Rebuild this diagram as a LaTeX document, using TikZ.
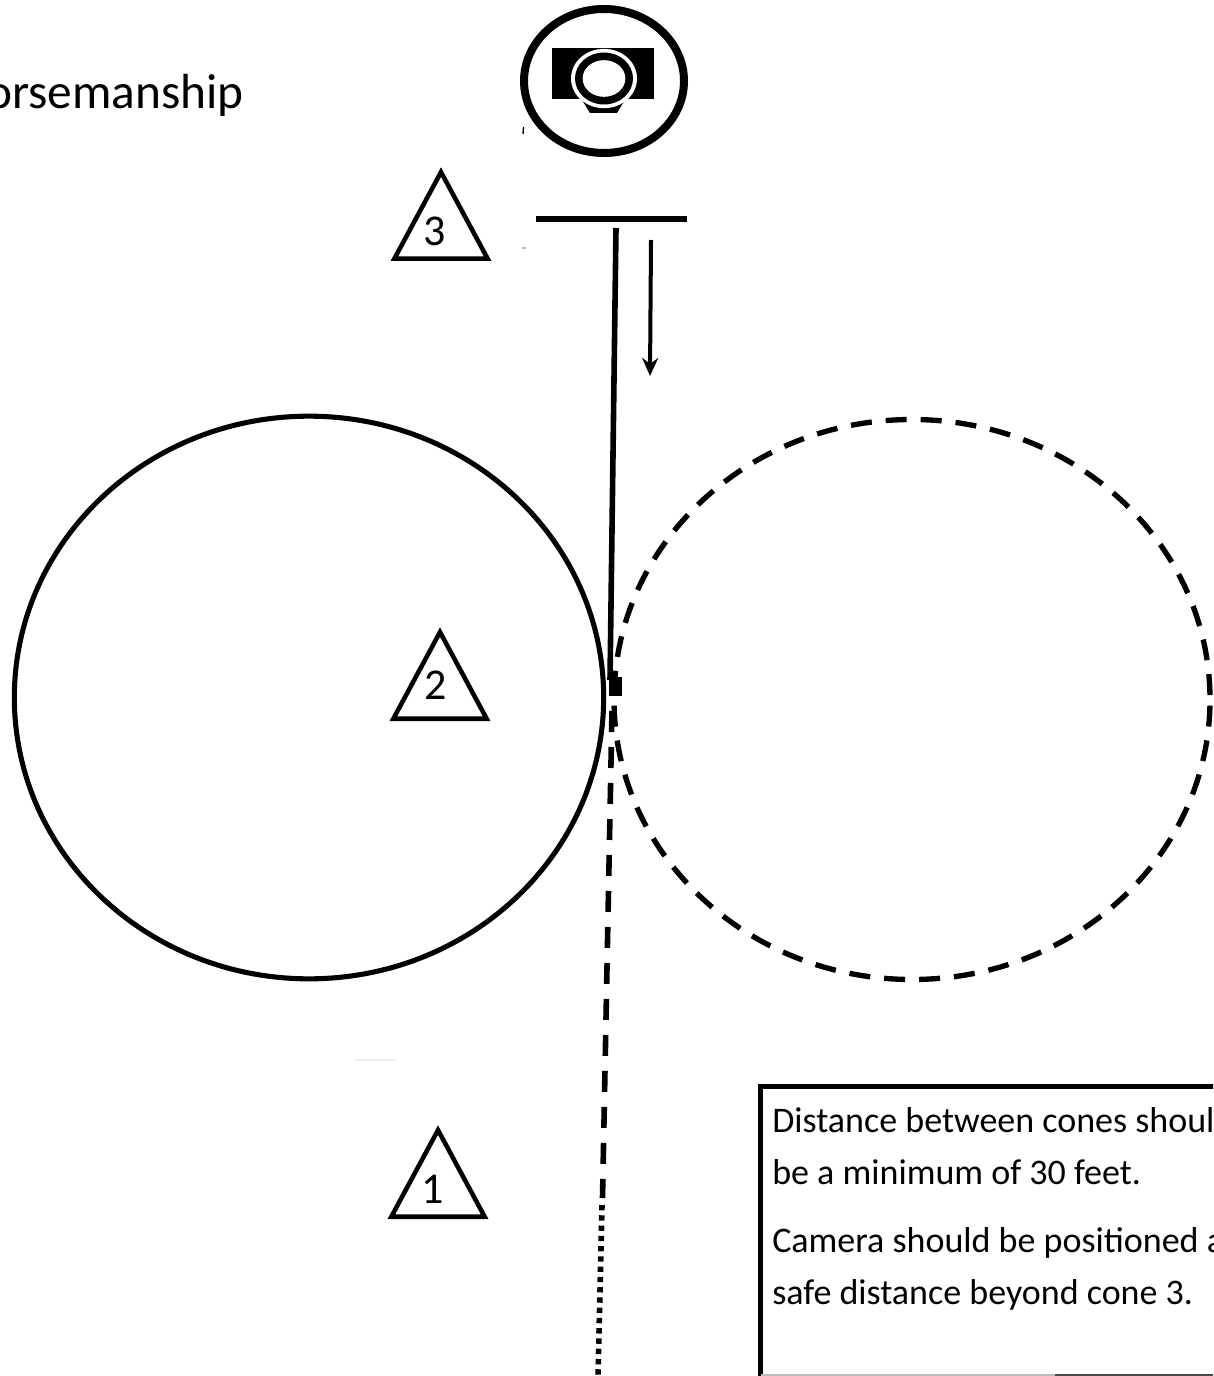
\documentclass[tikz,border=0pt]{standalone}
\usepackage{xcolor}
\usepackage{fontspec}
\setmainfont{Carlito}
\usetikzlibrary{shapes.geometric,arrows.meta,positioning,calc}
\definecolor{InkBlack}{HTML}{000000}
\definecolor{ScanGrey}{HTML}{BDBDBD}
\definecolor{ScanPale}{HTML}{EDEDED}
\definecolor{ScanDark}{HTML}{4A4A4A}
\tikzset{
  % Base ring
  RG/.style={ellipse,draw=InkBlack,line width=3.8pt,inner sep=0pt,
             minimum width=442pt,minimum height=422pt},
  RD/.style={RG,line width=4pt,minimum width=447pt,minimum height=420pt,dash pattern=on 15.75pt off 10.5pt,dash phase=22.9pt},
  % Cone
  CN/.style={isosceles triangle,isosceles triangle stretches,shape border rotate=90,
             draw=InkBlack,line width=3.4pt,inner sep=0pt,anchor=lower side,
             minimum width=70pt,minimum height=65pt},
  CL/.style={font=\fontsize{33}{33}\selectfont,inner sep=0pt},
  % Camera parts
  CB/.style={rectangle,fill=InkBlack,minimum width=76.5pt,minimum height=38pt,inner sep=0pt},
  CR/.style={ellipse,inner sep=0pt},
  % Lines
  arr/.style={-{Stealth[length=13.5pt,width=12pt]},line width=3pt,draw=InkBlack},
  solid3/.style={line width=4.2pt,draw=InkBlack},
  dash3/.style={line width=4.2pt,draw=InkBlack,dash pattern=on 15.75pt off 11.25pt},
  dots3/.style={line width=4.2pt,draw=InkBlack,dash pattern=on 4pt off 3.7pt},
  % Text
  TT/.style={font=\fontsize{37}{37}\selectfont,inner sep=0pt},
  NT/.style={font=\fontsize{27}{39}\selectfont,inner sep=0pt,align=left}
}
\begin{document}
\begin{tikzpicture}[x=0.75pt,y=-0.75pt]
  \clip (0,0) rectangle (1213,1376);
  \node[TT,anchor=base east] (title) at (244,108.5) {orsemanship};

  % camera
  \node[CR,draw=InkBlack,line width=6pt,minimum width=120pt,minimum height=108pt] (cam) at (604,81) {};
  \node[CB] (body) at (603,73.5) {};
  \fill[InkBlack] (582,100) -- (590,113) -- (617,113) -- (625,100) -- cycle;
  \node[CR,fill=white,minimum width=49.5pt,minimum height=44.5pt] (lensO) at (604,78.5) {};
  \node[CR,fill=InkBlack,minimum width=43.5pt,minimum height=39pt] (lensM) at (604,78.5) {};
  \node[CR,fill=white,minimum width=32pt,minimum height=27.5pt] (lensI) at (604,78.5) {};

  % scan marks
  \draw[InkBlack,line width=1pt] (523.5,127) -- (523,134);
  \draw[ScanGrey,line width=1pt] (522,248) -- (526,248);
  \draw[ScanPale,line width=1.5pt] (355,1060) -- (396,1060);

  % start bar and run lines
  \coordinate (barL) at (536,219);
  \coordinate (barR) at (687,219);
  \coordinate (runA) at (616,228);
  \coordinate (runB) at (610,680);
  \coordinate (arrA) at (651,240);
  \coordinate (arrB) at (650,376);
  \coordinate (appA) at (612,711);
  \coordinate (appB) at (602.5,1198);
  \coordinate (dotA) at (602,1205);
  \coordinate (dotB) at (598,1376);
  \draw[solid3] (barL) -- (barR);
  \draw[solid3] (runA) -- (runB);
  \draw[arr] (arrA) -- (arrB);

  % circles
  \node[RG] (left)  at (309,697.5) {};
  \node[RD] (right) at (912,699.5) {};

  \node[rectangle,fill=InkBlack,minimum width=9.5pt,minimum height=14pt,inner sep=0pt] (stop) at (615.5,686.5) {};
  \draw[dash3] (appA) -- (appB);
  \draw[dots3] (dotA) -- (dotB);

  % cones
  \node[CN] (cone3) at (441,261) {};
  \node[CN] (cone2) at (440,721) {};
  \node[CN] (cone1) at (438,1219) {};
  \node[CL] (num3) at (435,231) {3};
  \node[CL] (num2) at (436,685) {2};
  \node[CL] (num1) at (433,1189) {1};

  % note box
  \node[rectangle,draw=InkBlack,line width=4pt,outer sep=0pt,minimum width=400pt,minimum height=250pt,anchor=north west] (box) at (760.5,1086.5) {};
  \coordinate (edgeL) at (761,1375);
  \coordinate (edgeM) at (1055,1375);
  \coordinate (edgeR) at (1213,1375);
  \draw[ScanGrey,line width=1.5pt] (edgeL) -- (edgeM);
  \draw[ScanDark,line width=1.5pt] (edgeM) -- (edgeR);
  \node[NT,anchor=base west] (note) at (772,1304) {Distance between cones shoul\\be a minimum of 30 feet.\\[12pt]Camera should be positioned a\\safe distance beyond cone 3.};
\end{tikzpicture}
\end{document}
